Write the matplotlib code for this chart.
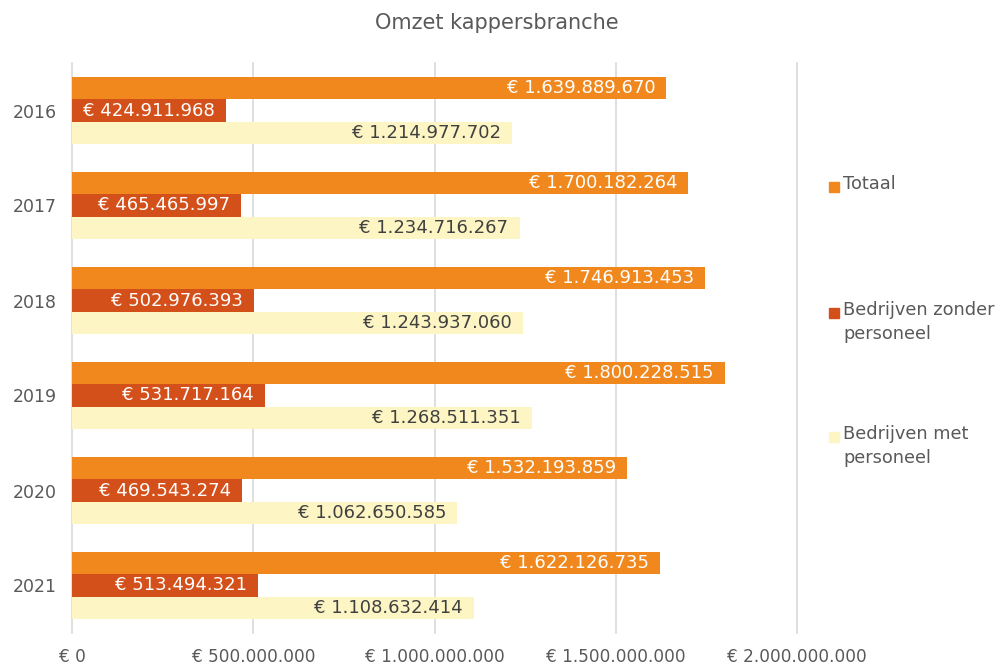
import matplotlib.pyplot as plt
import numpy as np
from matplotlib.patches import Rectangle

years = ["2016", "2017", "2018", "2019", "2020", "2021"]
totaal = [1639889670, 1700182264, 1746913453, 1800228515, 1532193859, 1622126735]
zonder_personeel = [424911968, 465465997, 502976393, 531717164, 469543274, 513494321]
met_personeel = [1214977702, 1234716267, 1243937060, 1268511351, 1062650585, 1108632414]

series = [
    ("Totaal", totaal, "#F0881E", "white"),
    ("Bedrijven zonder\npersoneel", zonder_personeel, "#D4501A", "white"),
    ("Bedrijven met\npersoneel", met_personeel, "#FDF5C3", "#404040"),
]

text_color = "#595959"
grid_color = "#D9D9D9"


def euro(v):
    return "€ " + f"{v:,}".replace(",", ".")


fig = plt.figure(figsize=(9.97, 6.65), dpi=100)
W, H = 997, 665
ax = fig.add_axes([72 / W, 32 / H, (797 - 72) / W, (633 - 63) / H])

y = np.arange(len(years))
bar_h = 0.2316
offsets = [-bar_h, 0, bar_h]

for (name, values, color, label_color), off in zip(series, offsets):
    bars = ax.barh(y + off, values, height=bar_h, color=color, zorder=3)
    for bar, v in zip(bars, values):
        ax.annotate(
            euro(v),
            xy=(bar.get_width(), bar.get_y() + bar.get_height() / 2),
            xytext=(-8, 0),
            textcoords="offset points",
            ha="right",
            va="center",
            color=label_color,
            fontsize=13,
            zorder=4,
        )

ax.set_xlim(0, 2_000_000_000)
ax.set_ylim(len(years) - 0.5, -0.5)
ax.set_yticks(y)
ax.set_yticklabels(years)
ticks = [0, 500_000_000, 1_000_000_000, 1_500_000_000, 2_000_000_000]
ax.set_xticks(ticks)
ax.set_xticklabels([euro(t) for t in ticks])
ax.tick_params(axis="both", length=0, colors=text_color, labelsize=12.5)
ax.tick_params(axis="x", labelsize=12.2, pad=11)
ax.tick_params(axis="y", pad=11)
ax.grid(axis="x", color=grid_color, linewidth=1.2, zorder=0)
for line in ax.get_xgridlines():
    line.set_clip_on(False)
for spine in ax.spines.values():
    spine.set_visible(False)

fig.text(497 / W, 1 - 23 / H, "Omzet kappersbranche", ha="center", va="center",
         fontsize=15, color=text_color)

# legend drawn by hand so the square sits beside the first line of each entry
legend_rows = [187, 313, 437]
for (name, values, color, label_color), row in zip(series, legend_rows):
    fig.patches.append(Rectangle((829 / W, 1 - (row + 5) / H), 10 / W, 10 / H,
                                 transform=fig.transFigure, color=color))
    fig.text(843 / W, 1 - (row - 12) / H, name, ha="left", va="top",
             fontsize=12.8, color=text_color, linespacing=1.4)

fig.savefig("out.png", dpi=100)
